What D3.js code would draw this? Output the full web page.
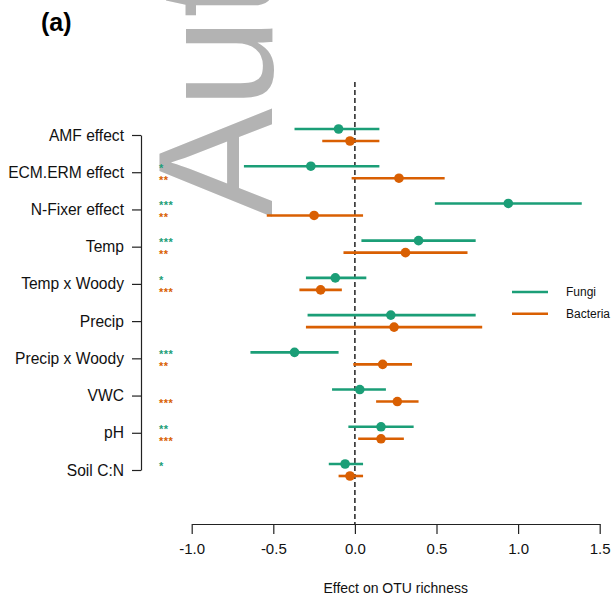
<!DOCTYPE html>
<html>
<head>
<meta charset="utf-8">
<script src="https://cdn.jsdelivr.net/npm/d3@7/dist/d3.min.js"></script>
<style>
  html, body { margin: 0; padding: 0; background: #fff; }
  svg { display: block; }
  text { font-family: "Liberation Sans", Arial, sans-serif; }
</style>
</head>
<body>
<svg id="chart" width="613" height="599"></svg>
<script>
// ---- data ----
const categories = ["AMF effect","ECM.ERM effect","N-Fixer effect","Temp","Temp x Woody","Precip","Precip x Woody","VWC","pH","Soil C:N"];
const fungiEst = [-0.10,-0.27,0.94,0.39,-0.12,0.22,-0.37,0.03,0.16,-0.06];
const fungiLo  = [-0.37,-0.68,0.49,0.04,-0.30,-0.29,-0.64,-0.14,-0.04,-0.16];
const fungiHi  = [0.15,0.15,1.39,0.74,0.07,0.74,-0.10,0.19,0.36,0.05];
const bactEst  = [-0.03,0.27,-0.25,0.31,-0.21,0.24,0.17,0.26,0.16,-0.03];
const bactLo   = [-0.20,-0.02,-0.54,-0.07,-0.34,-0.30,-0.01,0.13,0.02,-0.10];
const bactHi   = [0.15,0.55,0.05,0.69,-0.08,0.78,0.35,0.39,0.30,0.05];
const fungiStars = ["","*","***","***","*","","***","","**","*"];
const bactStars  = ["","**","**","**","***","","**","***","***",""];
const xTicks = [-1.0,-0.5,0.0,0.5,1.0,1.5];
const seriesNames = ["Fungi","Bacteria"];
const colors = ["#1b9e77","#d95f02"];

const svg = d3.select("#chart");

// watermark
svg.append("text")
  .attr("transform","translate(272,217) rotate(-90)")
  .attr("font-size",163)
  .attr("fill","#b3b3b3")
  .text("Author");

const x = d3.scaleLinear().domain([-1,1.5]).range([191.7,599.7]);
const y = d3.scalePoint().domain(categories).range([135,470]);

// zero line
svg.append("line")
  .attr("x1",x(0)).attr("x2",x(0))
  .attr("y1",82).attr("y2",524)
  .attr("stroke","#111").attr("stroke-width",1.4)
  .attr("stroke-dasharray","5,3");

// x axis
const gx = svg.append("g").attr("transform","translate(0,524)")
  .call(d3.axisBottom(x).tickValues(xTicks).tickSize(10).tickSizeOuter(0).tickPadding(9)
        .tickFormat(d => d.toFixed(1)));
gx.selectAll("path,line").attr("stroke","#222").attr("stroke-width",1.2);
gx.selectAll("text").attr("font-size",15).attr("fill","#111").attr("font-family","Liberation Sans, Arial, sans-serif");

svg.append("text").attr("x",395.7).attr("y",593).attr("text-anchor","middle")
  .attr("font-size",14).attr("fill","#111").text("Effect on OTU richness");

// y axis
const gy = svg.append("g").attr("transform","translate(141,0)")
  .call(d3.axisLeft(y).tickSize(9).tickSizeOuter(0).tickPadding(8));
gy.selectAll("path,line").attr("stroke","#222").attr("stroke-width",1.2);
gy.selectAll("text").attr("font-size",15.6).attr("fill","#111").attr("font-family","Liberation Sans, Arial, sans-serif");

// series
const series = [
  {est: fungiEst, lo: fungiLo, hi: fungiHi, stars: fungiStars, off: -6, color: colors[0]},
  {est: bactEst, lo: bactLo, hi: bactHi, stars: bactStars, off: 6, color: colors[1]}
];
series.forEach(s => {
  const g = svg.append("g");
  const rows = categories.map((c,i) => ({c, est: s.est[i], lo: s.lo[i], hi: s.hi[i], st: s.stars[i]}));
  g.selectAll("line.ci").data(rows).join("line")
    .attr("x1", d => x(d.lo)).attr("x2", d => x(d.hi))
    .attr("y1", d => y(d.c) + s.off).attr("y2", d => y(d.c) + s.off)
    .attr("stroke", s.color).attr("stroke-width", 2.6);
  g.selectAll("circle").data(rows).join("circle")
    .attr("cx", d => x(d.est)).attr("cy", d => y(d.c) + s.off)
    .attr("r", 4.8).attr("fill", s.color);
  g.selectAll("text").data(rows).join("text")
    .attr("x", 159).attr("y", d => y(d.c) + s.off + 5.8)
    .attr("font-family","DejaVu Sans, sans-serif")
    .attr("font-size", 11).attr("font-weight","bold").attr("letter-spacing", 0.5)
    .attr("fill", s.color)
    .text(d => d.st);
});

// legend
seriesNames.forEach((n,i) => {
  const ly = 292 + i*21.7;
  svg.append("line").attr("x1",512).attr("x2",548).attr("y1",ly).attr("y2",ly)
    .attr("stroke",colors[i]).attr("stroke-width",2.6);
  svg.append("text").attr("x",566).attr("y",ly+4.3).attr("font-size",12).attr("fill","#111").text(n);
});

// panel label
svg.append("text").attr("x",41).attr("y",31).attr("font-size",25).attr("font-weight","bold")
  .attr("fill","#000").text("(a)");
</script>
</body>
</html>
